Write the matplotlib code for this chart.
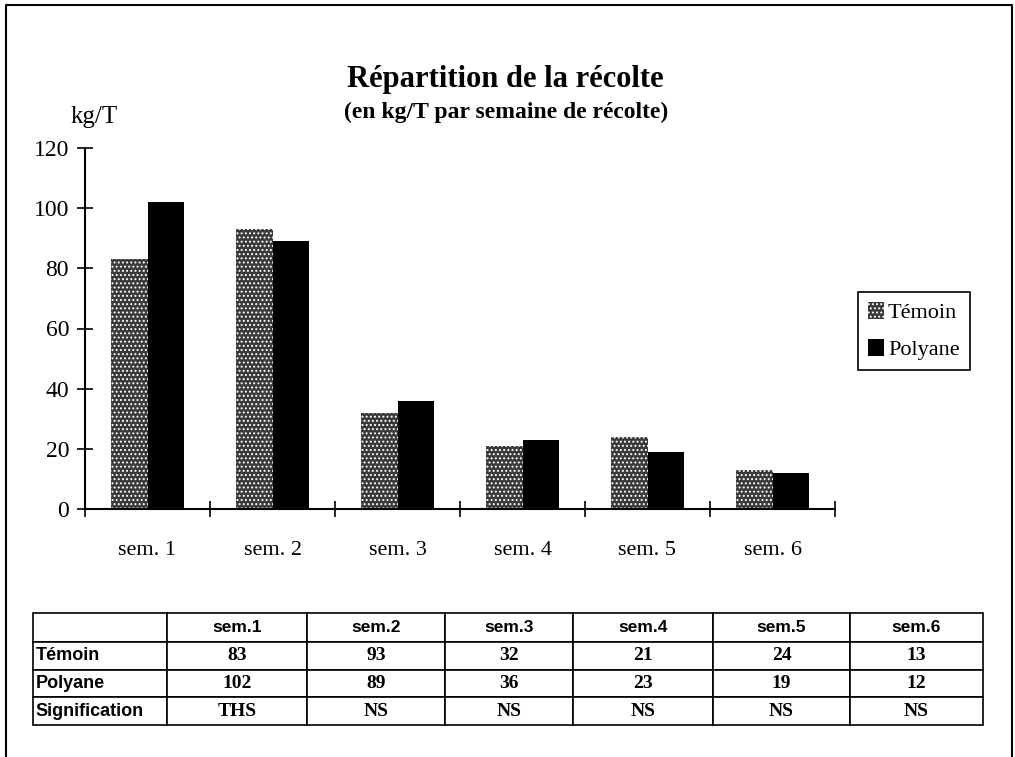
import numpy as np
import matplotlib
matplotlib.use("Agg")
import matplotlib.pyplot as plt
from matplotlib.lines import Line2D
from matplotlib.patches import Patch

weeks = ["sem.1", "sem.2", "sem.3", "sem.4", "sem.5", "sem.6"]
week_labels = ["sem. 1", "sem. 2", "sem. 3", "sem. 4", "sem. 5", "sem. 6"]
temoin = [83, 93, 32, 21, 24, 13]
polyane = [102, 89, 36, 23, 19, 12]
signif = ["THS", "NS", "NS", "NS", "NS", "NS"]
y_ticks = [0, 20, 40, 60, 80, 100, 120]

W, H = 1015, 757
plt.rcParams["font.family"] = ["Liberation Serif", "DejaVu Serif"]
plt.rcParams["hatch.color"] = "white"
plt.rcParams["hatch.linewidth"] = 0.9

fig = plt.figure(figsize=(W / 100, H / 100), dpi=100)

# page frame (bottom edge is cut off in the scan)
fig.add_artist(Line2D([6 / W, 6 / W, 1012 / W, 1012 / W],
                      [0, 1 - 5 / H, 1 - 5 / H, 0],
                      transform=fig.transFigure, color="black", lw=1.5))

fig.text(505 / W, 1 - 80 / H, "Répartition de la récolte", ha="center", va="center",
         fontsize=22, fontweight="bold")
fig.text(506 / W, 1 - 112 / H, "(en kg/T par semaine de récolte)", ha="center", va="center",
         fontsize=17, fontweight="bold")
fig.text(94 / W, 1 - 117 / H, "kg/T", ha="center", va="center", fontsize=18)

# bar chart
ax = fig.add_axes([85 / W, 1 - 509 / H, 750 / W, 361 / H])
x = np.arange(len(weeks))
bw = 0.295
ax.bar(x - bw / 2, temoin, bw, color="#3a3a3a", hatch="....", edgecolor="white", linewidth=0)
ax.bar(x + bw / 2, polyane, bw, color="black", linewidth=0)

ax.set_xlim(-0.5, len(weeks) - 0.5)
ax.set_ylim(0, 120)
ax.set_yticks(y_ticks)
ax.set_yticklabels([str(v) for v in y_ticks], fontsize=17)
ax.set_xticks(x)
ax.set_xticklabels(week_labels, fontsize=16)
ax.set_xticks(np.arange(len(weeks) + 1) - 0.5, minor=True)
ax.tick_params(axis="x", which="major", length=0, pad=23)
ax.tick_params(axis="x", which="minor", direction="inout", length=11, width=1.2)
ax.tick_params(axis="y", direction="inout", length=11, width=1.2, pad=6)
for s in ["top", "right"]:
    ax.spines[s].set_visible(False)
for s in ["left", "bottom"]:
    ax.spines[s].set_linewidth(1.5)

handles = [Patch(facecolor="#3a3a3a", hatch="....", edgecolor="white", linewidth=0),
           Patch(facecolor="black", linewidth=0)]
leg = fig.legend(handles, ["Témoin", "Polyane"], loc="upper left",
                 bbox_to_anchor=(858 / W, 1 - 292 / H), fontsize=16,
                 fancybox=False, framealpha=1, edgecolor="black",
                 handlelength=0.7, handleheight=0.8, handletextpad=0.2,
                 borderpad=0.45, labelspacing=0.7, borderaxespad=0)
leg.get_frame().set_linewidth(1.2)

# table under the chart
tax = fig.add_axes([33 / W, 1 - 725 / H, 950 / W, 112 / H])
tax.axis("off")
col_edges = [33, 167, 307, 445, 573, 713, 850, 983]
col_w = np.diff(col_edges) / (col_edges[-1] - col_edges[0])
cells = [[""] + weeks,
         ["Témoin"] + [str(v) for v in temoin],
         ["Polyane"] + [str(v) for v in polyane],
         ["Signification"] + signif]
tbl = tax.table(cellText=cells, colWidths=col_w, bbox=[0, 0, 1, 1], cellLoc="center")
tbl.auto_set_font_size(False)
row_h = [29, 28, 27, 28]
for (r, c), cell in tbl.get_celld().items():
    cell.set_linewidth(1.2)
    cell.set_height(row_h[r])
    txt = cell.get_text()
    if r == 0:
        txt.set_fontfamily(["Liberation Sans", "DejaVu Sans"])
        txt.set_fontsize(12.5)
    elif c == 0:
        txt.set_fontfamily(["Liberation Sans Narrow", "Liberation Sans", "DejaVu Sans"])
        txt.set_fontsize(13)
    else:
        txt.set_fontfamily(["Liberation Serif", "DejaVu Serif"])
        txt.set_fontsize(14)
    txt.set_fontweight("bold")
    if c == 0:
        txt.set_ha("left")
        cell.PAD = 0.02

fig.savefig("out.png", dpi=100)
